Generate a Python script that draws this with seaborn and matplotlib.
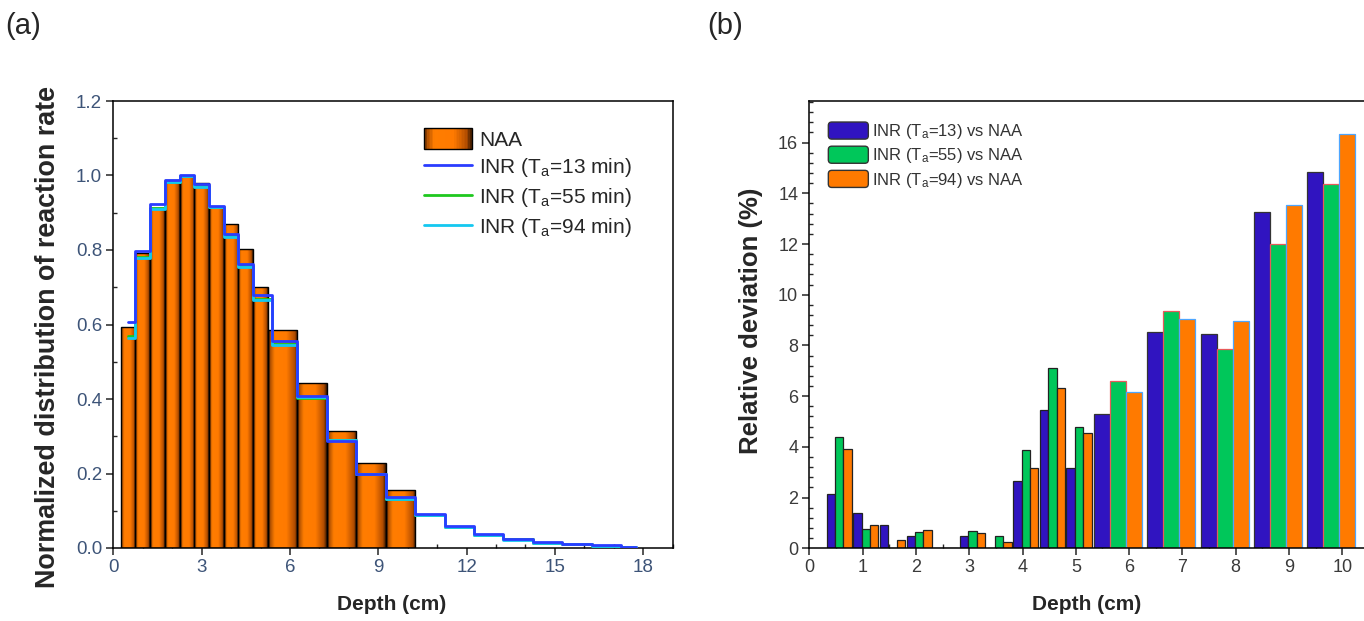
import numpy as np
import pandas as pd
import matplotlib
matplotlib.use("Agg")
import matplotlib.pyplot as plt
import seaborn as sns
from matplotlib.colors import LinearSegmentedColormap
from matplotlib.patches import Rectangle, Patch, FancyBboxPatch
from matplotlib.lines import Line2D
from matplotlib.legend_handler import HandlerBase, HandlerPatch
from matplotlib.ticker import MultipleLocator, FormatStrFormatter

# ---------------- data: panel (a) ----------------
naa_edges = [0.25, 0.75, 1.25, 1.75, 2.25, 2.75, 3.25, 3.75, 4.25, 4.75, 5.25,
             6.25, 7.25, 8.25, 9.25, 10.25]
naa_values = [0.592, 0.791, 0.912, 0.988, 1.000, 0.979, 0.916, 0.869, 0.804, 0.700,
              0.585, 0.442, 0.315, 0.227, 0.156]

inr_edges = [0.5, 0.75, 1.25, 1.75, 2.25, 2.75, 3.25, 3.75, 4.25, 4.75, 5.4,
             6.25, 7.25, 8.25, 9.25, 10.25, 11.25, 12.25, 13.25, 14.25, 15.25,
             16.25, 17.25, 17.75]
inr_13 = [0.606, 0.797, 0.923, 0.988, 1.001, 0.976, 0.919, 0.842, 0.762, 0.679,
          0.555, 0.408, 0.288, 0.200, 0.136, 0.091, 0.059, 0.037, 0.024, 0.015,
          0.011, 0.007, 0.004]
inr_55 = [0.568, 0.782, 0.912, 0.982, 0.998, 0.972, 0.916, 0.839, 0.756, 0.668,
          0.547, 0.404, 0.289, 0.199, 0.132, 0.089, 0.057, 0.036, 0.023, 0.014,
          0.010, 0.006, 0.003]
inr_94 = [0.565, 0.779, 0.910, 0.982, 1.000, 0.970, 0.916, 0.836, 0.754, 0.666,
          0.545, 0.405, 0.289, 0.200, 0.131, 0.088, 0.056, 0.035, 0.022, 0.014,
          0.010, 0.006, 0.003]
inr_labels = ["INR (T$_{a}$=13 min)", "INR (T$_{a}$=55 min)", "INR (T$_{a}$=94 min)"]

# ---------------- data: panel (b) ----------------
series_b = ["INR (T$_{a}$=13) vs NAA", "INR (T$_{a}$=55) vs NAA", "INR (T$_{a}$=94) vs NAA"]
depth_narrow = [0.56, 1.06, 1.56, 2.06, 2.56, 3.06, 3.56, 4.06, 4.56, 5.06]
dev13_narrow = [2.13, 1.40, 0.92, 0.49, 0.0, 0.49, 0.0, 2.65, 5.46, 3.16]
dev55_narrow = [4.40, 0.76, 0.0, 0.63, 0.0, 0.68, 0.49, 3.88, 7.10, 4.80]
dev94_narrow = [3.93, 0.92, 0.33, 0.72, 0.0, 0.59, 0.24, 3.17, 6.34, 4.56]
depth_wide = [5.79, 6.79, 7.79, 8.79, 9.79]
dev13_wide = [5.29, 8.52, 8.45, 13.25, 14.83]
dev55_wide = [6.61, 9.36, 7.85, 12.00, 14.36]
dev94_wide = [6.18, 9.06, 8.98, 13.54, 16.33]

# ---------------- style ----------------
sns.set_style("ticks")
plt.rcParams["font.family"] = ["Liberation Sans", "DejaVu Sans"]
plt.rcParams["mathtext.fontset"] = "custom"
plt.rcParams["mathtext.rm"] = "Liberation Sans"
plt.rcParams["mathtext.default"] = "regular"

c_blue_line = "#2a3cff"
c_green_line = "#1ec81e"
c_cyan_line = "#14c8f0"
c_blue_bar = "#3014c0"
c_green_bar = "#00c75a"
c_orange_bar = "#ff7a00"
tick_col_a = "#3d5478"
tick_col_b = "#3a3a3a"

bar_cmap = LinearSegmentedColormap.from_list(
    "cyl", [(0.0, "#3d1a00"), (0.07, "#b05000"), (0.22, "#ff7d00"),
            (0.62, "#ff7a00"), (0.9, "#b24d00"), (1.0, "#3d1a00")])

fig = plt.figure(figsize=(13.64, 6.21), dpi=100)
W, H = 1364.0, 621.0
axA = fig.add_axes([113.3 / W, 73 / H, 559.4 / W, 447 / H])
axB = fig.add_axes([809.3 / W, 72.7 / H, 559.7 / W, 447.3 / H])

# ---------------- panel (a) ----------------
naa_mid = [(a + b) / 2 for a, b in zip(naa_edges[:-1], naa_edges[1:])]
inr_mid = [(a + b) / 2 for a, b in zip(inr_edges[:-1], inr_edges[1:])]

sns.histplot(x=naa_mid, weights=naa_values, bins=naa_edges, ax=axA,
             color=c_orange_bar, alpha=1, edgecolor="black", linewidth=1.0,
             element="bars", fill=True, legend=False)
grad = np.linspace(0, 1, 64).reshape(1, -1)
for p in list(axA.patches):
    x0, y0 = p.get_x(), p.get_y()
    w, h = p.get_width(), p.get_height()
    im = axA.imshow(grad, extent=(x0, x0 + w, y0, y0 + h), aspect="auto",
                    cmap=bar_cmap, zorder=2.5, interpolation="bilinear")
    im.set_clip_path(p)
    p.set_facecolor("none")
    p.set_zorder(3)

for vals, col in [(inr_55, c_green_line), (inr_94, c_cyan_line), (inr_13, c_blue_line)]:
    sns.histplot(x=inr_mid, weights=vals, bins=inr_edges, ax=axA, element="step",
                 fill=False, color=col, linewidth=2.0, zorder=4, legend=False)

axA.set_xlim(0, 19)
axA.set_ylim(0, 1.2)
axA.xaxis.set_major_locator(MultipleLocator(3))
axA.xaxis.set_minor_locator(MultipleLocator(1))
axA.yaxis.set_major_locator(MultipleLocator(0.2))
axA.yaxis.set_minor_locator(MultipleLocator(0.1))
axA.yaxis.set_major_formatter(FormatStrFormatter("%.1f"))
axA.set_xlabel("Depth (cm)", fontsize=15, fontweight="bold")
axA.set_ylabel("Normalized distribution of reaction rate", fontsize=19.4, fontweight="bold")
axA.yaxis.set_label_coords(-0.093, 0.472)
axA.xaxis.set_label_coords(0.498, -0.105)


class GradHandler(HandlerBase):
    def create_artists(self, legend, orig_handle, xd, yd, w, h, fontsize, trans):
        arts = []
        n = 30
        for i in range(n):
            arts.append(Rectangle((-xd + w * i / n, -yd), w / n + 0.3, h,
                                  facecolor=bar_cmap((i + 0.5) / n), edgecolor="none",
                                  transform=trans))
        arts.append(Rectangle((-xd, -yd), w, h, facecolor="none", edgecolor="black",
                              linewidth=1.0, transform=trans))
        return arts


naa_handle = Patch(facecolor=c_orange_bar, edgecolor="black")
handles_a = [naa_handle,
             Line2D([], [], color=c_blue_line, lw=2),
             Line2D([], [], color=c_green_line, lw=2),
             Line2D([], [], color=c_cyan_line, lw=2)]
legA = axA.legend(handles_a, ["NAA"] + inr_labels, loc="upper left",
                  bbox_to_anchor=(0.555, 0.94), frameon=False, fontsize=15,
                  handlelength=2.3, handleheight=1.2, handletextpad=0.35,
                  labelspacing=0.3, borderpad=0, borderaxespad=0,
                  handler_map={naa_handle: GradHandler()})

# ---------------- panel (b) ----------------
df_narrow = pd.DataFrame({
    "depth": depth_narrow * 3,
    "dev": dev13_narrow + dev55_narrow + dev94_narrow,
    "series": [series_b[0]] * len(depth_narrow) + [series_b[1]] * len(depth_narrow)
              + [series_b[2]] * len(depth_narrow)})
df_wide = pd.DataFrame({
    "depth": depth_wide * 3,
    "dev": dev13_wide + dev55_wide + dev94_wide,
    "series": [series_b[0]] * len(depth_wide) + [series_b[1]] * len(depth_wide)
              + [series_b[2]] * len(depth_wide)})
pal = {series_b[0]: c_blue_bar, series_b[1]: c_green_bar, series_b[2]: c_orange_bar}

sns.barplot(data=df_narrow, x="depth", y="dev", hue="series", hue_order=series_b,
            palette=pal, native_scale=True, width=0.94, errorbar=None, ax=axB,
            edgecolor="#222222", linewidth=0.9, saturation=1, legend=False)
sns.barplot(data=df_wide, x="depth", y="dev", hue="series", hue_order=series_b,
            palette=pal, native_scale=True, width=0.9, errorbar=None, ax=axB,
            edgecolor="#222222", linewidth=0.9, saturation=1, legend=False)
wide_edges = ["#333333", "#e85a5a", "#4da6ff"]
for cont, ec in zip(axB.containers[3:6], wide_edges):
    for bar in cont:
        bar.set_edgecolor(ec)

axB.set_xlim(0, 10.5)
axB.set_ylim(0, 17.64)
axB.xaxis.set_major_locator(MultipleLocator(1))
axB.xaxis.set_minor_locator(MultipleLocator(0.5))
axB.yaxis.set_major_locator(MultipleLocator(2))
axB.yaxis.set_minor_locator(MultipleLocator(0.4))
axB.set_xlabel("Depth (cm)", fontsize=15, fontweight="bold")
axB.set_ylabel("Relative deviation (%)", fontsize=18.5, fontweight="bold")
axB.yaxis.set_label_coords(-0.083, 0.508)
axB.xaxis.set_label_coords(0.496, -0.105)


def rounded(legend, orig_handle, xdescent, ydescent, width, height, fontsize):
    return FancyBboxPatch((-xdescent, -ydescent), width, height,
                          boxstyle="round,pad=0,rounding_size=2.5")


handles_b = [Patch(facecolor=pal[s], edgecolor="#333333", linewidth=1.0) for s in series_b]
axB.legend(handles_b, series_b, loc="upper left", bbox_to_anchor=(0.034, 0.953),
           frameon=False, fontsize=12, handlelength=2.4, handleheight=1.2,
           handletextpad=0.2, labelspacing=0.3, borderpad=0, borderaxespad=0,
           labelcolor="#333333",
           handler_map={Patch: HandlerPatch(patch_func=rounded)})

# ---------------- common axis styling ----------------
for ax, tcol, fs in [(axA, tick_col_a, 13.5), (axB, tick_col_b, 13)]:
    for s in ax.spines.values():
        s.set_linewidth(1.1)
        s.set_color("black")
        s.set_visible(True)
    ax.tick_params(which="major", direction="out", length=5, width=1.1,
                   labelsize=fs, labelcolor=tcol, pad=3, top=False, right=False)
    ax.tick_params(which="minor", direction="in", length=3, width=1.0,
                   top=False, right=False)
    ax.grid(False)

fig.text(5 / W, 1 - 12 / H, "(a)", fontsize=21, ha="left", va="top")
fig.text(707 / W, 1 - 12 / H, "(b)", fontsize=21, ha="left", va="top")

fig.savefig("out.png", dpi=100)
